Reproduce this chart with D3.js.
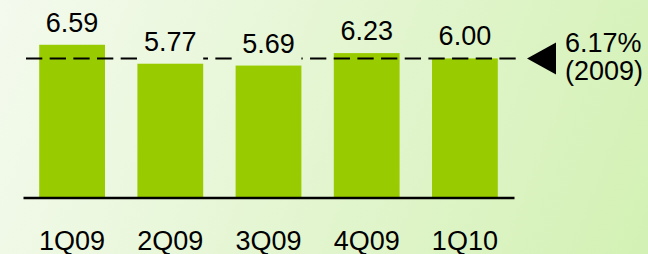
<!DOCTYPE html>
<html>
<head>
<meta charset="utf-8">
<script src="https://cdn.jsdelivr.net/npm/d3@7"></script>
<style>
  body { margin: 0; }
  svg { display: block; font-family: "Liberation Sans", Arial, sans-serif; }
</style>
</head>
<body>
<svg width="648" height="254"></svg>
<script>
const quarters = ["1Q09", "2Q09", "3Q09", "4Q09", "1Q10"];
const values = [6.59, 5.77, 5.69, 6.23, 6.00];
const avgLabel = ["6.17%", "(2009)"];
// the dashed reference line sits at this level in the source picture
const avgLineLevel = 6.02;

const svg = d3.select("svg");

// background gradient (user space so label boxes can reuse it)
const grad = svg.append("defs").append("linearGradient")
  .attr("id", "bg")
  .attr("gradientUnits", "userSpaceOnUse")
  .attr("x1", 0).attr("y1", 0).attr("x2", 648).attr("y2", 254);
grad.append("stop").attr("offset", "0%").attr("stop-color", "#f4faee");
grad.append("stop").attr("offset", "100%").attr("stop-color", "#d3f1b4");
svg.append("rect").attr("width", 648).attr("height", 254).attr("fill", "url(#bg)");

const x = d3.scaleBand()
  .domain(quarters)
  .range([23, 514])
  .paddingInner(0.33)
  .paddingOuter(0.165);
const y = d3.scaleLinear().domain([0, 7]).range([197, 35.3]);

svg.selectAll(".bar")
  .data(values)
  .enter()
  .append("rect")
  .attr("class", "bar")
  .attr("x", (d, i) => x(quarters[i]))
  .attr("width", x.bandwidth())
  .attr("y", d => y(d))
  .attr("height", d => y(0) - y(d))
  .attr("fill", "#99cc00");

// x axis
const axis = svg.append("g")
  .attr("transform", "translate(0,197.5)")
  .call(d3.axisBottom(x).tickSize(0).tickSizeOuter(0));
axis.select(".domain").attr("stroke", "#000").attr("stroke-width", 2.5);
axis.selectAll("text")
  .attr("y", 52)
  .attr("dy", null)
  .attr("font-size", 27)
  .attr("font-family", "Liberation Sans, Arial, sans-serif")
  .attr("fill", "#000");

// dashed average line
const ly = Math.round(y(avgLineLevel)) + 0.5;
svg.append("line")
  .attr("x1", 26).attr("x2", 516)
  .attr("y1", ly).attr("y2", ly)
  .attr("stroke", "#000")
  .attr("stroke-width", 2)
  .attr("stroke-dasharray", "16.3 7.37");

// value labels with background boxes that hide the dashed line
const vals = svg.selectAll(".val")
  .data(values)
  .enter()
  .append("g")
  .attr("class", "val");
vals.append("rect")
  .attr("x", (d, i) => x(quarters[i]))
  .attr("width", x.bandwidth())
  .attr("y", d => y(d) - 13 - 24)
  .attr("height", 34)
  .attr("fill", "url(#bg)");
vals.append("text")
  .attr("x", (d, i) => x(quarters[i]) + x.bandwidth() / 2)
  .attr("y", d => y(d) - 13)
  .attr("text-anchor", "middle")
  .attr("font-size", 27)
  .attr("fill", "#000")
  .text(d => d.toFixed(2));

// marker triangle
svg.append("path")
  .attr("d", `M527,${ly} L556,${ly - 16} L556,${ly + 16} Z`)
  .attr("fill", "#000");

const lbl = svg.append("text")
  .attr("x", 565)
  .attr("font-size", 27)
  .attr("fill", "#000");
lbl.selectAll("tspan")
  .data(avgLabel)
  .enter()
  .append("tspan")
  .attr("x", 565)
  .attr("y", (d, i) => 52 + i * 28)
  .text(d => d);
</script>
</body>
</html>
